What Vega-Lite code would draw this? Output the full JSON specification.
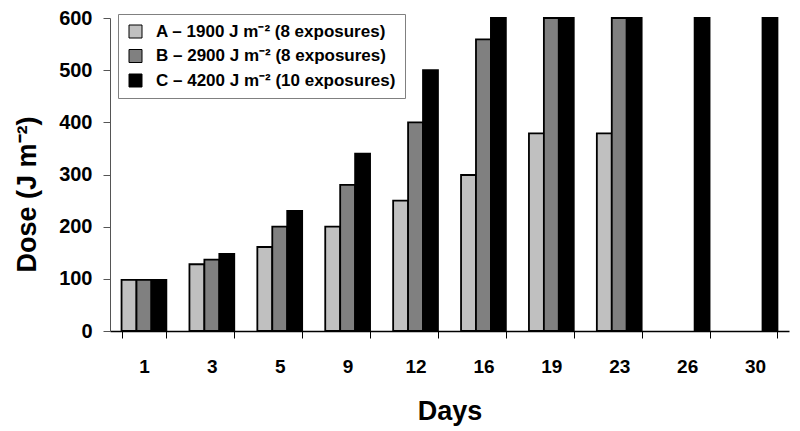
{
  "$schema": "https://vega.github.io/schema/vega-lite/v6.json",
  "width": 679,
  "height": 313,
  "autosize": {"type": "none"},
  "padding": {"left": 110, "top": 18, "right": 11, "bottom": 100},
  "background": "white",
  "config": {
    "view": {"stroke": null},
    "font": "Liberation Sans",
    "axis": {"labelFont": "Liberation Sans", "titleFont": "Liberation Sans", "labelFontWeight": "bold", "titleFontWeight": "bold", "labelColor": "black", "titleColor": "black", "grid": false}
  },
  "data": {
    "values": [
      {"Day": "1", "Series": "A – 1900 J m⁻² (8 exposures)", "Dose": 98},
      {"Day": "1", "Series": "B – 2900 J m⁻² (8 exposures)", "Dose": 98},
      {"Day": "1", "Series": "C – 4200 J m⁻² (10 exposures)", "Dose": 98},
      {"Day": "3", "Series": "A – 1900 J m⁻² (8 exposures)", "Dose": 128},
      {"Day": "3", "Series": "B – 2900 J m⁻² (8 exposures)", "Dose": 137},
      {"Day": "3", "Series": "C – 4200 J m⁻² (10 exposures)", "Dose": 148},
      {"Day": "5", "Series": "A – 1900 J m⁻² (8 exposures)", "Dose": 161},
      {"Day": "5", "Series": "B – 2900 J m⁻² (8 exposures)", "Dose": 200},
      {"Day": "5", "Series": "C – 4200 J m⁻² (10 exposures)", "Dose": 230},
      {"Day": "9", "Series": "A – 1900 J m⁻² (8 exposures)", "Dose": 200},
      {"Day": "9", "Series": "B – 2900 J m⁻² (8 exposures)", "Dose": 280},
      {"Day": "9", "Series": "C – 4200 J m⁻² (10 exposures)", "Dose": 340},
      {"Day": "12", "Series": "A – 1900 J m⁻² (8 exposures)", "Dose": 250},
      {"Day": "12", "Series": "B – 2900 J m⁻² (8 exposures)", "Dose": 400},
      {"Day": "12", "Series": "C – 4200 J m⁻² (10 exposures)", "Dose": 500},
      {"Day": "16", "Series": "A – 1900 J m⁻² (8 exposures)", "Dose": 299},
      {"Day": "16", "Series": "B – 2900 J m⁻² (8 exposures)", "Dose": 559},
      {"Day": "16", "Series": "C – 4200 J m⁻² (10 exposures)", "Dose": 600},
      {"Day": "19", "Series": "A – 1900 J m⁻² (8 exposures)", "Dose": 379},
      {"Day": "19", "Series": "B – 2900 J m⁻² (8 exposures)", "Dose": 600},
      {"Day": "19", "Series": "C – 4200 J m⁻² (10 exposures)", "Dose": 600},
      {"Day": "23", "Series": "A – 1900 J m⁻² (8 exposures)", "Dose": 379},
      {"Day": "23", "Series": "B – 2900 J m⁻² (8 exposures)", "Dose": 600},
      {"Day": "23", "Series": "C – 4200 J m⁻² (10 exposures)", "Dose": 600},
      {"Day": "26", "Series": "C – 4200 J m⁻² (10 exposures)", "Dose": 600},
      {"Day": "30", "Series": "C – 4200 J m⁻² (10 exposures)", "Dose": 600}
    ]
  },
  "mark": {"type": "bar", "stroke": "black", "strokeWidth": 1.8},
  "encoding": {
    "x": {
      "field": "Day", "type": "ordinal",
      "sort": ["1", "3", "5", "9", "12", "16", "19", "23", "26", "30"],
      "scale": {"paddingInner": 0.34, "paddingOuter": 0.17},
      "axis": {"title": "Days", "titleFontSize": 27, "titleY": 88, "titleBaseline": "alphabetic", "labelFontSize": 19, "labelAngle": 0, "labelBaseline": "alphabetic", "labelPadding": 34, "tickBand": "extent", "tickSize": 7, "tickColor": "black", "domainColor": "black", "domainWidth": 1.5}
    },
    "xOffset": {"field": "Series", "type": "nominal", "scale": {"paddingInner": 0, "paddingOuter": 0}},
    "y": {
      "field": "Dose", "type": "quantitative",
      "scale": {"domain": [0, 600], "nice": false},
      "axis": {"title": "Dose (J m⁻²)", "titleFontSize": 27, "titleX": -75, "titleY": 176, "titleBaseline": "alphabetic", "titleAngle": -90, "labelFontSize": 20, "values": [0, 100, 200, 300, 400, 500, 600], "tickSize": 7, "labelPadding": 11, "tickColor": "#555555", "domainColor": "#555555", "domainWidth": 1}
    },
    "color": {
      "field": "Series", "type": "nominal",
      "scale": {"range": ["#c0c0c0", "#808080", "#000000"]},
      "legend": {
        "title": null, "orient": "none", "legendX": 8, "legendY": -4,
        "strokeColor": "#808080", "fillColor": "white", "padding": 9,
        "labelFont": "Liberation Sans", "labelFontWeight": "bold", "labelFontSize": 17, "labelColor": "black", "labelLimit": 400,
        "symbolType": "square", "symbolSize": 169, "symbolStrokeColor": "black", "symbolStrokeWidth": 1, "symbolOpacity": 1,
        "rowPadding": 6.5, "labelOffset": 12
      }
    }
  }
}
